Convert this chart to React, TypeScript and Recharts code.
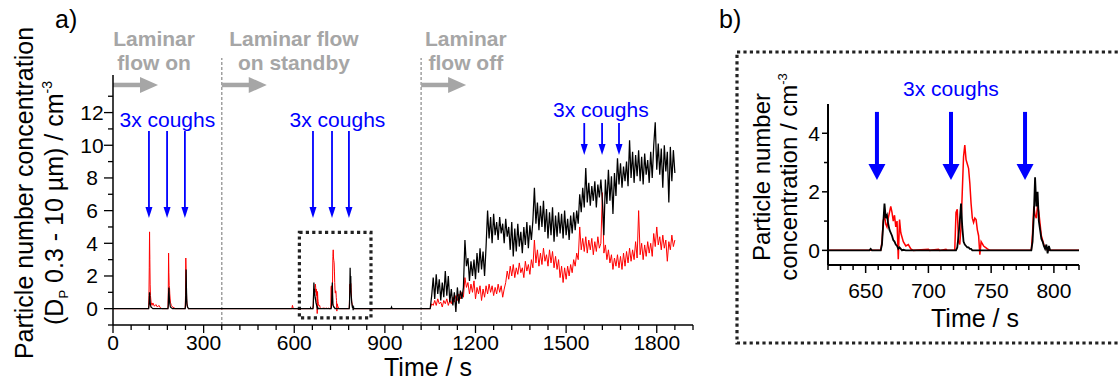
import React from 'react';
import { LineChart, Line, XAxis, YAxis, ReferenceLine, ReferenceDot, ReferenceArea } from 'recharts';

const FONT = '"Liberation Sans", Arial, Helvetica, sans-serif';
const RED = '#ff0000';
const BLUE = '#0000ff';
const GRAY = '#a6a6a6';

// ---------- data: cough-event part (time in s, concentration in cm^-3) ----------
const spikeTimes = [
  0, 118, 119, 120, 121, 122, 123, 124, 126, 129, 132, 137, 142, 147, 152, 157, 162,
  182, 183, 184, 185, 186, 187, 188, 190, 193, 197, 202, 207,
  239, 240, 241, 242, 243, 244, 245, 247, 250,
  592, 594, 597, 653, 654, 655,
  662, 663, 664, 665, 666, 667, 668, 669, 670, 671, 672, 673, 674, 675, 676, 677, 678, 679, 680, 682, 684, 686, 688,
  700, 701, 708, 709, 714, 715,
  721, 722, 723, 724, 725, 726, 727, 728, 729, 730, 731, 732, 733, 734, 735, 736, 737, 738, 739, 740, 741, 742, 744, 747, 749,
  782, 783, 784, 785, 786, 787, 788, 789, 790, 791, 792, 793, 794, 795, 796, 797,
  920, 922, 924, 1045,
];
const spikeRed = [
  0, 0, 0.8, 2.5, 4.7, 3.0, 1.5, 0.8, 0.4, 0.2, 0.35, 0.15, 0.25, 0.1, 0.2, 0.05, 0,
  0, 1.0, 3.4, 2.2, 1.4, 1.3, 0.9, 0.4, 0.2, 0.1, 0.05, 0,
  0, 0.8, 3.1, 2.3, 1.2, 0.5, 0.2, 0.05, 0,
  0, 0.2, 0, 0, 0, 0,
  0, 0.3, 1.0, 1.2, 0.9, 0.8, 1.1, 1.3, 1.5, 1.3, 1.0, 1.2, 0.8, 1.0, -0.3, 1.05, 0.6, 0.45, 0.3, 0.15, 0.2, 0.05, 0,
  0.04, 0, 0.04, 0, 0.04, 0,
  0, 1.3, 1.4, 0.3, 0.2, 0.8, 2.0, 3.2, 3.6, 3.1, 2.95, 2.8, 2.3, 1.6, 1.1, 0.95, 1.1, 1.05, 0.7, 0.5, -0.15, 0.3, 0.15, 0.05, 0,
  0, 0.6, 1.5, 1.2, 1.1, 1.55, 1.3, 0.9, 0.5, 0.35, 0.2, 0.1, 0.05, 0, 0, 0,
  0, 0, 0, 0,
];
const spikeBlack = [
  0, 0, 0.2, 0.5, 1.0, 0.7, 0.4, 0.2, 0.1, 0.05, 0, 0, 0, 0, 0, 0, 0,
  0, 0.2, 0.9, 1.3, 0.9, 0.5, 0.3, 0.1, 0.05, 0, 0, 0,
  0, 0.2, 0.9, 2.4, 1.3, 0.6, 0.3, 0.1, 0,
  0, 0, 0, 0, 0.05, 0,
  0, 0.2, 0.9, 1.6, 1.1, 1.2, 0.9, 0.7, 0.6, 0.5, 0.35, 0.3, 0.2, 0.15, 0.05, 0.1, 0.05, 0, 0.02, 0, 0, 0, 0,
  0, 0, 0, 0, 0, 0,
  0, 0, 0.1, 0.5, 1.0, 1.6, 0.8, 0.3, 0.2, 0.15, 0.1, 0.1, 0.05, 0.05, 0, 0, 0, 0, 0, 0, 0, 0, 0, 0, 0,
  0, 0.3, 1.2, 2.5, 1.5, 2.0, 1.0, 0.7, 0.4, 0.3, 0.15, 0.05, 0.2, -0.1, 0.15, 0,
  0, 0.1, 0, 0,
];

// ---------- data: laminar flow off part, one reading every 5 s from 1050 s ----------
const noisyStart = 1050;
const noisyStep = 5;
const noisyBlack = [
  0, 0.8, 1.9, 0.6, 2.1, 0.9, 1.8, 0.5, 1.6, 0.7,
  2.3, 0.8, 2.0, 0.4, 1.2, 0.2, 1.0, -0.2, 1.3, 0.3,
  1.1, 0.6, 1.3, 4.2, 2.6, 3.1, 1.7, 2.9, 2.0, 3.0,
  1.8, 3.4, 2.2, 3.7, 2.4, 3.5, 2.0, 3.8, 6.0, 4.3,
  5.6, 4.0, 5.8, 4.5, 5.3, 4.2, 5.6, 4.6, 5.2, 4.0,
  5.5, 4.4, 5.0, 3.6, 5.3, 3.2, 4.9, 3.5, 5.2, 3.8,
  4.7, 3.4, 5.0, 3.9, 5.3, 3.7, 5.1, 4.2, 5.4, 7.4,
  5.2, 6.5, 4.8, 6.3, 5.0, 6.6, 4.7, 6.1, 4.3, 5.9,
  4.5, 6.2, 4.1, 5.7, 4.4, 5.9, 4.6, 5.8, 4.3, 6.0,
  4.5, 5.5, 4.2, 5.7, 4.6, 5.9, 4.8, 6.0, 5.2, 7.0,
  5.9, 7.4, 6.2, 8.6, 6.5, 7.7, 6.3, 7.5, 6.6, 7.8,
  6.2, 7.6, 6.8, 7.9, 6.6, 4.5, 7.9, 6.4, 8.5, 6.6,
  8.1, 5.8, 8.3, 6.9, 9.2, 7.6, 8.9, 7.4, 8.7, 7.8,
  9.0, 7.5, 10.3, 8.0, 9.6, 7.7, 9.4, 8.1, 9.7, 7.8,
  9.3, 7.6, 9.5, 8.2, 9.1, 7.7, 9.6, 8.0, 10.0, 11.4,
  8.5, 10.1, 8.2, 9.8, 7.4, 10.0, 8.4, 9.6, 6.5, 9.9,
  7.8, 9.7, 8.3,
];
const noisyRed = [
  0, 0.3, 0.2, 0.5, 0.2, 0.6, 0.3, 0.4, 0.1, 0.5,
  0.3, 0.6, 0.2, 0.5, 0.3, 0.7, 0.4, 0.8, 0.5, 0.9,
  0.6, 1.0, 0.7, 1.9, 1.3, 1.6, 0.9, 1.5, 1.0, 1.7,
  0.6, 1.3, 0.9, 1.4, 0.5, 1.2, 0.7, 1.4, 0.9, 1.5,
  1.0, 1.4, 0.8, 1.3, 0.9, 1.5, 1.0, 1.4, 0.7, 1.2,
  1.6, 2.3, 1.8, 2.6, 2.0, 2.7, 1.9, 2.5, 2.1, 2.8,
  2.2, 2.5, 1.9, 2.9, 2.3, 2.7, 2.1, 3.0, 2.5, 4.2,
  2.8, 3.6, 2.6, 3.4, 2.7, 3.7, 2.9, 3.3, 2.6, 3.6,
  2.8, 3.5, 2.5, 3.2, 2.4, 3.0, 1.9, 2.6, 1.6, 2.5,
  1.8, 2.6, 2.0, 2.7, 2.2, 3.0, 2.6, 3.4, 3.0, 5.0,
  3.6, 4.3, 3.5, 4.4, 3.4, 4.2, 3.6, 4.3, 3.3, 4.1,
  3.5, 4.4, 3.7, 4.0, 7.1, 3.4, 3.9, 3.0, 3.6, 2.8,
  3.3, 2.4, 3.1, 2.6, 3.3, 2.5, 3.2, 2.4, 3.4, 2.6,
  3.5, 2.8, 3.7, 2.9, 3.6, 3.0, 4.1, 3.1, 6.0, 3.3,
  4.0, 3.0, 3.9, 3.2, 4.1, 3.4, 4.0, 3.2, 4.6, 3.8,
  5.0, 3.9, 4.4, 3.6, 4.5, 3.7, 4.2, 2.9, 4.1, 3.6,
  4.5, 3.8, 4.2,
];

// ---------- annotations ----------
const phaseBoundaries = [360, 1020];
const phaseArrowStarts = [0, 360, 1020];
const phaseArrowLength = 149;
const phaseLabelCenters = [136, 599, 1168];
const phaseLabels = [
  ['Laminar', 'flow on'],
  ['Laminar flow', 'on standby'],
  ['Laminar', 'flow off'],
];
const coughSetsA = [
  { times: [119, 179, 238], label: 180, top: 10.87, tip: 5.55, text: 11.12 },
  { times: [662, 725, 781], label: 743, top: 10.87, tip: 5.55, text: 11.12 },
  { times: [1560, 1619, 1675], label: 1615, top: 11.36, tip: 9.4, text: 11.73 },
];
const coughTimesB = [659, 718, 777];
const zoomBox = { x1: 617, x2: 854, y1: -0.57, y2: 4.67 };

// ---------- ticks ----------
const xMajorA = [0, 300, 600, 900, 1200, 1500, 1800];
const xTicksA = Array.from({ length: 33 }, (_, i) => i * 60);
const yTicksA = [-1, 0, 1, 2, 3, 4, 5, 6, 7, 8, 9, 10, 11, 12, 13];
const yLabelsA = [0, 2, 4, 6, 8, 10, 12];
const xTicksB = Array.from({ length: 21 }, (_, i) => 620 + i * 10);
const yTicksB = [0, 1, 2, 3, 4];

const rows = [
  ...spikeTimes.map((t, i) => ({ t, red: spikeRed[i], black: spikeBlack[i] })),
  ...noisyBlack.map((b, i) => ({ t: noisyStart + i * noisyStep, red: noisyRed[i], black: b })),
];

// ---------- shapes ----------
const downArrow = (shaftW: number, headW: number, headL: number, color: string) => (p: any) => {
  const { x1, y1, y2 } = p;
  return (
    <g>
      <line x1={x1} x2={x1} y1={y1} y2={y2 - headL + 1} stroke={color} strokeWidth={shaftW} />
      <polygon
        points={`${x1 - headW / 2},${y2 - headL} ${x1 + headW / 2},${y2 - headL} ${x1},${y2}`}
        fill={color}
      />
    </g>
  );
};
const rightArrow = (p: any) => {
  const { x1, y1, x2 } = p;
  const headL = 18;
  const headW = 16;
  return (
    <g>
      <line x1={x1} x2={x2 - headL + 1} y1={y1} y2={y1} stroke={GRAY} strokeWidth={4.5} />
      <polygon
        points={`${x2 - headL},${y1 - headW / 2} ${x2 - headL},${y1 + headW / 2} ${x2},${y1}`}
        fill={GRAY}
      />
    </g>
  );
};
const phaseText = (lines: string[]) => (p: any) => (
  <text x={p.cx} y={p.cy} textAnchor="middle" fontSize={21} fontWeight="bold" fill={GRAY} fontFamily={FONT}>
    <tspan x={p.cx} dy={0}>{lines[0]}</tspan>
    <tspan x={p.cx} dy={24}>{lines[1]}</tspan>
  </text>
);
const blueText = (p: any) => (
  <text x={p.cx} y={p.cy} textAnchor="middle" fontSize={21} fill={BLUE} fontFamily={FONT}>
    3x coughs
  </text>
);

// ---------- ticks renderers ----------
const XTickA = (p: any) => {
  const { x, y, payload } = p;
  const v = payload.value;
  const major = v % 300 === 0;
  return (
    <g>
      <line x1={x} x2={x} y1={y} y2={y + (major ? 8 : 5)} stroke="#000" strokeWidth={1.3} />
      {major && xMajorA.includes(v) && (
        <text x={x} y={y + 25} textAnchor="middle" fontSize={21} fill="#000" fontFamily={FONT}>
          {v}
        </text>
      )}
    </g>
  );
};
const YTickA = (p: any) => {
  const { x, y, payload } = p;
  const v = payload.value;
  const major = yLabelsA.includes(v);
  return (
    <g>
      <line x1={x - (major ? 9 : 5)} x2={x} y1={y} y2={y} stroke="#000" strokeWidth={1.3} />
      {major && (
        <text x={x - 21} y={y + 7.5} textAnchor="middle" fontSize={21} fill="#000" fontFamily={FONT}>
          {v}
        </text>
      )}
    </g>
  );
};
const XTickB = (p: any) => {
  const { x, y, payload } = p;
  const v = payload.value;
  const major = v % 50 === 0;
  return (
    <g>
      <line x1={x} x2={x} y1={y} y2={y + (major ? 8 : 5)} stroke="#000" strokeWidth={1.5} />
      {major && (
        <text x={x} y={y + 33} textAnchor="middle" fontSize={21} fill="#000" fontFamily={FONT}>
          {v}
        </text>
      )}
    </g>
  );
};
const YTickB = (p: any) => {
  const { x, y, payload } = p;
  const v = payload.value;
  const major = v % 2 === 0;
  return (
    <g>
      <line x1={x - (major ? 6 : 4)} x2={x} y1={y} y2={y} stroke="#000" strokeWidth={1.5} />
      {major && (
        <text x={x - 14} y={y + 7.5} textAnchor="middle" fontSize={21} fill="#000" fontFamily={FONT}>
          {v}
        </text>
      )}
    </g>
  );
};

export default function App() {
  return (
    <div style={{ position: 'absolute', left: 0, top: 0, width: 1118, height: 383, background: '#fff', overflow: 'hidden' }}>
      {/* Panel a */}
      <div style={{ position: 'absolute', left: 0, top: 0 }}>
        <LineChart width={700} height={383} data={rows} margin={{ top: 75, right: 7, bottom: 28, left: 53 }}>
          <XAxis
            dataKey="t"
            type="number"
            domain={[0, 1920]}
            allowDataOverflow
            ticks={xTicksA}
            interval={0}
            tick={(p: any) => <XTickA {...p} />}
            tickLine={false}
            tickSize={0}
            tickMargin={0}
            height={30}
            axisLine={{ stroke: '#000', strokeWidth: 1.5 }}
          />
          <YAxis
            type="number"
            domain={[-1, 14.3]}
            allowDataOverflow
            ticks={yTicksA}
            interval={0}
            tick={(p: any) => <YTickA {...p} />}
            tickLine={false}
            tickSize={0}
            tickMargin={0}
            width={60}
            axisLine={{ stroke: '#000', strokeWidth: 1.5 }}
          />
          {phaseBoundaries.map((t) => (
            <ReferenceLine
              key={'pb' + t}
              segment={[{ x: t, y: -1 }, { x: t, y: 15.34 }]}
              stroke="#a0a0a0"
              strokeWidth={1.5}
              strokeDasharray="3 2"
              ifOverflow="visible"
            />
          ))}
          {phaseArrowStarts.map((t) => (
            <ReferenceLine
              key={'pa' + t}
              segment={[{ x: t, y: 13.69 }, { x: t + phaseArrowLength, y: 13.69 }]}
              ifOverflow="visible"
              shape={rightArrow}
            />
          ))}
          {phaseLabels.map((lines, i) => (
            <ReferenceDot
              key={'pl' + i}
              x={phaseLabelCenters[i]}
              y={16.07}
              ifOverflow="visible"
              shape={phaseText(lines)}
            />
          ))}
          <Line dataKey="red" stroke={RED} strokeWidth={1} dot={false} isAnimationActive={false} />
          <Line dataKey="black" stroke="#000" strokeWidth={1.25} dot={false} isAnimationActive={false} />
          <ReferenceArea
            x1={zoomBox.x1}
            x2={zoomBox.x2}
            y1={zoomBox.y1}
            y2={zoomBox.y2}
            fill="none"
            fillOpacity={0}
            stroke="#222"
            strokeWidth={3.2}
            strokeDasharray="3.2 3.2"
            ifOverflow="visible"
          />
          {coughSetsA.map((s, k) =>
            s.times.map((t) => (
              <ReferenceLine
                key={'ca' + k + '-' + t}
                segment={[{ x: t, y: s.top }, { x: t, y: s.tip }]}
                ifOverflow="visible"
                shape={downArrow(1.8, 7, 11, BLUE)}
              />
            ))
          )}
          {coughSetsA.map((s, k) => (
            <ReferenceDot key={'ct' + k} x={s.label} y={s.text} ifOverflow="visible" shape={blueText} />
          ))}
        </LineChart>
      </div>

      {/* Panel b */}
      <div style={{ position: 'absolute', left: 720, top: 0 }}>
        <LineChart width={398} height={383} data={rows} margin={{ top: 104, right: 39, bottom: 88, left: 58 }}>
          <XAxis
            dataKey="t"
            type="number"
            domain={[620, 820]}
            allowDataOverflow
            ticks={xTicksB}
            interval={0}
            tick={(p: any) => <XTickB {...p} />}
            tickLine={false}
            tickSize={0}
            tickMargin={0}
            height={30}
            axisLine={{ stroke: '#000', strokeWidth: 2 }}
          />
          <YAxis
            type="number"
            domain={[-0.5, 5]}
            allowDataOverflow
            ticks={yTicksB}
            interval={0}
            tick={(p: any) => <YTickB {...p} />}
            tickLine={false}
            tickSize={0}
            tickMargin={0}
            width={50}
            axisLine={{ stroke: '#000', strokeWidth: 2 }}
          />
          <Line dataKey="red" stroke={RED} strokeWidth={1.5} dot={false} isAnimationActive={false} />
          <Line dataKey="black" stroke="#000" strokeWidth={1.8} dot={false} isAnimationActive={false} />
          {coughTimesB.map((t) => (
            <ReferenceLine
              key={'cb' + t}
              segment={[{ x: t, y: 4.73 }, { x: t, y: 2.4 }]}
              ifOverflow="visible"
              shape={downArrow(4, 17, 16, BLUE)}
            />
          ))}
          <ReferenceDot x={718} y={5.27} ifOverflow="visible" shape={blueText} />
        </LineChart>
      </div>

      {/* static texts and frame */}
      <svg
        width={1118}
        height={383}
        style={{ position: 'absolute', left: 0, top: 0, pointerEvents: 'none' }}
        fontFamily={FONT}
      >
        <text x={55} y={28} fontSize={25} fill="#000">a)</text>
        <text x={719} y={28} fontSize={25} fill="#000">b)</text>
        <text transform="translate(33,193) rotate(-90)" textAnchor="middle" fontSize={25} fill="#000">
          Particle number concentration
        </text>
        <text transform="translate(63,203) rotate(-90)" textAnchor="middle" fontSize={25} fill="#000">
          (D<tspan fontSize={13} dy={5}>P</tspan>
          <tspan dy={-5}> 0.3 - 10 µm) / cm</tspan>
          <tspan fontSize={14} dy={-11}>-3</tspan>
        </text>
        <text x={428} y={376} textAnchor="middle" fontSize={25} fill="#000">Time / s</text>

        <rect x={737} y={52} width={400} height={291} fill="none" stroke="#222" strokeWidth={3.2} strokeDasharray="3.2 3.2" />
        <text transform="translate(770,177) rotate(-90)" textAnchor="middle" fontSize={24} fill="#000">
          Particle number
        </text>
        <text transform="translate(797,177) rotate(-90)" textAnchor="middle" fontSize={24} fill="#000">
          concentration / cm<tspan fontSize={13} dy={-10}>-3</tspan>
        </text>
        <text x={975} y={327} textAnchor="middle" fontSize={25} fill="#000">Time / s</text>
      </svg>
    </div>
  );
}
